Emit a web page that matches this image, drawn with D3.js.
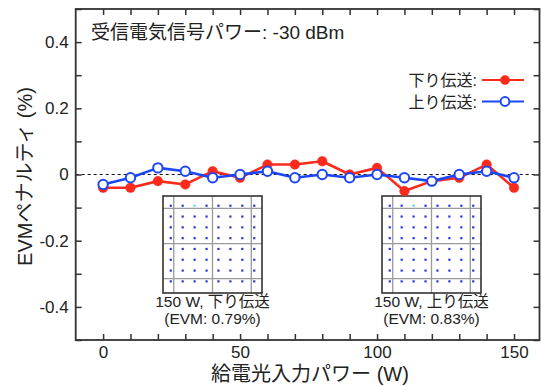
<!DOCTYPE html>
<html>
<head>
<meta charset="utf-8">
<script src="https://cdn.jsdelivr.net/npm/d3@7"></script>
<style>
  html, body { margin: 0; padding: 0; background: #fff; }
  svg text { font-family: "Liberation Sans", Arial, "Noto Sans CJK JP", sans-serif; fill: #222; }
</style>
</head>
<body>
<div id="chart"></div>
<script>
// data
const powerW = [0, 10, 20, 30, 40, 50, 60, 70, 80, 90, 100, 110, 120, 130, 140, 150];
const downPenalty = [-0.04, -0.04, -0.02, -0.03, 0.01, -0.01, 0.03, 0.03, 0.04, 0, 0.02, -0.05, -0.02, -0.01, 0.03, -0.04];
const upPenalty = [-0.03, -0.01, 0.02, 0.01, -0.01, 0, 0.01, -0.01, 0, -0.01, 0, -0.01, -0.02, 0, 0.01, -0.01];
const xTicks = [0, 50, 100, 150];
const yTicks = [-0.4, -0.2, 0, 0.2, 0.4];
const seriesNames = ['下り伝送:', '上り伝送:'];
const insetCaptions = [['150 W, 下り伝送', '(EVM: 0.79%)'], ['150 W, 上り伝送', '(EVM: 0.83%)']];
const qamLevels = [-7, -5, -3, -1, 1, 3, 5, 7];

const W = 541, H = 386;
const red = '#fa2a1c', blue = '#1d47f5';

const svg = d3.select('#chart').append('svg')
  .attr('width', W).attr('height', H);

const x = d3.scaleLinear().domain([-10, 159.3]).range([75.7, 539.5]);
const y = d3.scaleLinear().domain([-0.5, 0.5]).range([340, 9]);

const x0 = x.range()[0], x1 = x.range()[1];
const yB = y.range()[0], yT = y.range()[1];

// zero reference line
svg.append('line')
  .attr('x1', x0).attr('x2', x1)
  .attr('y1', y(0)).attr('y2', y(0))
  .attr('stroke', '#111').attr('stroke-width', 1)
  .attr('stroke-dasharray', '3,3');

// axes (ticks inside on all sides)
const minorX = d3.range(0, 151, 10);
const minorY = d3.range(-0.5, 0.51, 0.1).map(v => +v.toFixed(1));

const fmtY = d => d === 0 ? '0' : d3.format('.1f')(d).replace('−', '-');

svg.append('g')
  .attr('transform', `translate(0,${yB})`)
  .call(d3.axisBottom(x).tickValues(minorX).tickSize(-6).tickPadding(6)
    .tickFormat(d => xTicks.includes(d) ? d : ''))
  .call(g => g.select('.domain').remove())
  .call(g => g.selectAll('text').attr('font-size', 17));

svg.append('g')
  .attr('transform', `translate(0,${yT})`)
  .call(d3.axisTop(x).tickValues(minorX).tickSize(-6).tickFormat(''))
  .call(g => g.select('.domain').remove());

svg.append('g')
  .attr('transform', `translate(${x0},0)`)
  .call(d3.axisLeft(y).tickValues(minorY).tickSize(-6).tickPadding(7)
    .tickFormat(d => yTicks.some(t => Math.abs(t - d) < 1e-9) ? fmtY(d) : ''))
  .call(g => g.select('.domain').remove())
  .call(g => g.selectAll('text').attr('font-size', 17));

svg.append('g')
  .attr('transform', `translate(${x1},0)`)
  .call(d3.axisRight(y).tickValues(minorY).tickSize(-6).tickFormat(''))
  .call(g => g.select('.domain').remove());

svg.selectAll('.tick line').attr('stroke', '#333').attr('stroke-width', 1.5);

// frame
svg.append('rect')
  .attr('x', x0).attr('y', yT)
  .attr('width', x1 - x0).attr('height', yB - yT)
  .attr('fill', 'none').attr('stroke', '#333').attr('stroke-width', 1.8);

// insets: 64-QAM constellations
const insetBoxes = [{ left: 163, top: 196 }, { left: 382, top: 196 }];
const boxW = 99, boxH = 97;
const qx = d3.scaleLinear().domain([-8.3, 8.3]).range([0, boxW]);
const qy = d3.scaleLinear().domain([-9.15, 8.8]).range([boxH, 0]);
const qamPoints = [];
qamLevels.forEach(i => qamLevels.forEach(q => qamPoints.push({ i, q })));

insetBoxes.forEach((b, k) => {
  const g = svg.append('g').attr('transform', `translate(${b.left},${b.top})`);
  g.append('rect').attr('width', boxW).attr('height', boxH).attr('fill', '#fff');
  [-6.5, 0, 6.5].forEach(v => {
    g.append('line').attr('x1', qx(v)).attr('x2', qx(v)).attr('y1', 0).attr('y2', boxH)
      .attr('stroke', '#9a9a9a').attr('stroke-width', 1.3);
    g.append('line').attr('y1', qy(v)).attr('y2', qy(v)).attr('x1', 0).attr('x2', boxW)
      .attr('stroke', '#9a9a9a').attr('stroke-width', 1.3);
  });
  g.selectAll('rect.pt').data(qamPoints).enter().append('rect')
    .attr('class', 'pt')
    .attr('x', d => qx(d.i) - 1.1).attr('y', d => qy(d.q) - 1.1)
    .attr('width', 2.2).attr('height', 2.2)
    .attr('fill', d => (d.i === -3 && d.q === 7) ? '#4fe0e6' : '#2a36e0');
  g.append('rect').attr('width', boxW).attr('height', boxH)
    .attr('fill', 'none').attr('stroke', '#333').attr('stroke-width', 1.6);
  const cx = boxW / 2;
  g.append('text').attr('x', cx).attr('y', 110.5).attr('text-anchor', 'middle')
    .attr('font-size', 15.5).text(insetCaptions[k][0]);
  g.append('text').attr('x', cx).attr('y', 127.5).attr('text-anchor', 'middle')
    .attr('font-size', 15.5).text(insetCaptions[k][1]);
});

// series
const series = [
  { values: downPenalty, color: red, filled: true },
  { values: upPenalty, color: blue, filled: false }
];
const line = d3.line().x((d, i) => x(powerW[i])).y(d => y(d));

series.forEach(s => {
  svg.append('path').datum(s.values)
    .attr('d', line)
    .attr('fill', 'none').attr('stroke', s.color).attr('stroke-width', 2.6)
    .attr('stroke-linejoin', 'round');
  svg.append('g').selectAll('circle').data(s.values).enter().append('circle')
    .attr('cx', (d, i) => x(powerW[i])).attr('cy', d => y(d))
    .attr('r', s.filled ? 4.8 : 4.7)
    .attr('fill', s.filled ? s.color : '#fff')
    .attr('stroke', s.color).attr('stroke-width', s.filled ? 0.5 : 2);
});

// legend
const legY = [80, 101.5];
series.forEach((s, k) => {
  svg.append('text').attr('x', 477).attr('y', legY[k] + 6)
    .attr('text-anchor', 'end').attr('font-size', 16).text(seriesNames[k]);
  svg.append('line').attr('x1', 482).attr('x2', 524)
    .attr('y1', legY[k]).attr('y2', legY[k])
    .attr('stroke', s.color).attr('stroke-width', 2.2);
  svg.append('circle').attr('cx', 505).attr('cy', legY[k])
    .attr('r', s.filled ? 4.6 : 4.4)
    .attr('fill', s.filled ? s.color : '#fff')
    .attr('stroke', s.color).attr('stroke-width', s.filled ? 0.5 : 2);
});

// annotation
svg.append('text').attr('x', 91).attr('y', 38.5)
  .attr('font-size', 19).text('受信電気信号パワー: -30 dBm');

// axis titles
svg.append('text').attr('x', 310).attr('y', 381)
  .attr('text-anchor', 'middle').attr('font-size', 20).text('給電光入力パワー (W)');
svg.append('text')
  .attr('transform', `translate(32,176.5) rotate(-90)`)
  .attr('text-anchor', 'middle').attr('font-size', 20).text('EVMペナルティ (%)');
</script>
</body>
</html>
